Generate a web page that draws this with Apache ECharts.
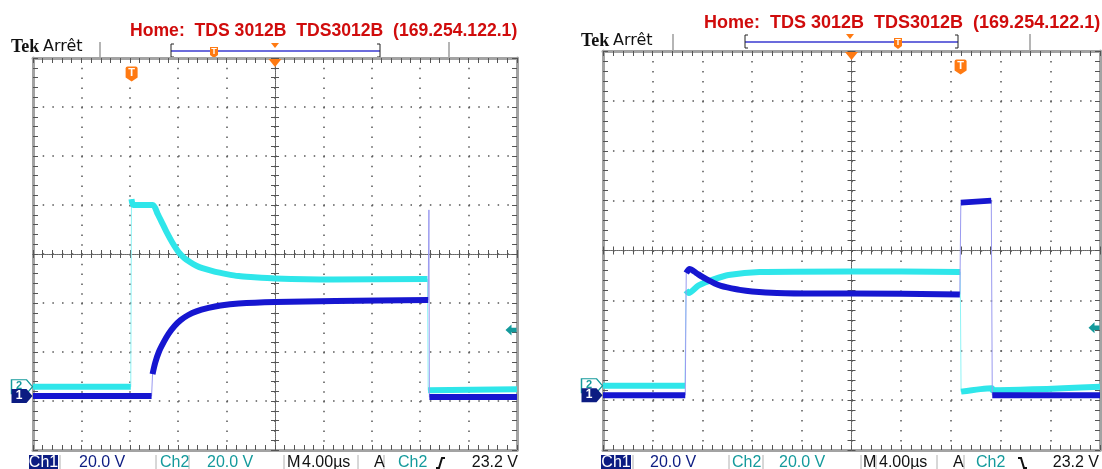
<!DOCTYPE html>
<html>
<head>
<meta charset="utf-8">
<title>TDS3012B</title>
<script src="https://cdn.jsdelivr.net/npm/echarts/dist/echarts.min.js"></script>
<style>
  html, body { margin: 0; padding: 0; background: #fff; }
  #main { width: 1102px; height: 469px; }
</style>
</head>
<body>
<div id="main"></div>
<script>
// temps en µs (4 µs/div), niveaux en divisions d'écran (20 V/div)
var leftCh2T  = [-20, -11.92, -11.86, -11.7, -10.1, -9.7, -9.3, -8.9, -8.5, -8.0, -7.5, -7.0, -6.5, -6.0, -5.0, -4.0, -3.0, -2.0, 0, 4.8, 12.6, 12.66, 20];
var leftCh2V  = [-2.71, -2.71, 1.12, 1.0, 1.0, 0.82, 0.62, 0.42, 0.24, 0.05, -0.08, -0.17, -0.24, -0.29, -0.36, -0.41, -0.45, -0.47, -0.5, -0.52, -0.51, -2.78, -2.76];
var leftCh1T  = [-20, -10.2, -10.12, -9.9, -9.6, -9.2, -8.8, -8.3, -7.8, -7.2, -6.5, -5.5, -4.5, -3.0, 0, 5.0, 12.66, 12.72, 12.76, 20];
var leftCh1V  = [-2.9, -2.9, -2.45, -2.22, -2.0, -1.8, -1.63, -1.47, -1.35, -1.25, -1.17, -1.1, -1.05, -1.01, -0.98, -0.96, -0.94, 0.9, -2.92, -2.92];

var rightCh2T = [-20, -13.4, -13.32, -13.1, -12.3, -11.1, -9.9, -7.4, 0, 8.75, 8.82, 11.3, 11.36, 20];
var rightCh2V = [-2.71, -2.71, -0.8, -0.85, -0.7, -0.58, -0.49, -0.43, -0.42, -0.43, -2.83, -2.76, -2.8, -2.73];
var rightCh1T = [-20, -13.38, -13.3, -13.03, -12.5, -12.0, -11.5, -11.0, -10.5, -10.0, -9.0, -8.0, -6.0, -3.0, 0, 8.72, 8.8, 11.25, 11.33, 20];
var rightCh1V = [-2.9, -2.9, -0.45, -0.37, -0.45, -0.53, -0.6, -0.66, -0.71, -0.74, -0.79, -0.82, -0.85, -0.86, -0.86, -0.88, 0.96, 1.0, -2.9, -2.9];

var voltsPerDiv = 20;
var trigLevel = 23.2;          // V, sur Ch2
var ch1Offset = -2.9;          // div
var ch2Offset = -2.71;         // div
var trigTimes = [-11.85, 8.78]; // µs

var scopes = [
  { left: 33,  top: 58, width: 484, height: 392 },
  { left: 603, top: 51, width: 497, height: 399 }
];

function pairs(t, v) {
  var d = [];
  for (var i = 0; i < t.length; i++) d.push([t[i], v[i]]);
  return d;
}
// trace épaisse : on coupe aux fronts raides (qui restent fins)
function thick(t, v) {
  var d = [];
  for (var i = 0; i < t.length; i++) {
    if (i > 0 && t[i] - t[i - 1] < 0.15 && Math.abs(v[i] - v[i - 1]) > 0.3) {
      d.push([(t[i] + t[i - 1]) / 2, '-']);
    }
    d.push([t[i], v[i]]);
  }
  return d;
}

var CYAN = '#2fe6ea', CYAN_THIN = '#8ff4f6';
var BLUE = '#1616d0', BLUE_THIN = '#9a9af0';
var ORANGE = '#ff7a12', NAVY = '#0c1c82', TEAL = '#149a9c', RED = '#d00c0c';

var grids = [], xAxes = [], yAxes = [], series = [];

scopes.forEach(function (sc, s) {
  var periodV = sc.height / 40, periodH = sc.width / 50;
  for (var k = 0; k < 4; k++) {
    var g = s * 4 + k;
    var border = k < 2;
    grids.push({ left: sc.left, top: sc.top, width: sc.width, height: sc.height });
    var lineStyle = border ? { color: '#a3a3a3', width: 3 } : { color: '#666', width: 1, type: [1, 1] };
    xAxes.push({
      gridIndex: g, type: 'value', min: -20, max: 20, interval: 4,
      position: (k === 0 || k === 2) ? 'bottom' : 'top',
      axisLine: { onZero: !border, lineStyle: lineStyle },
      axisTick: { inside: true, length: border ? 5 : 4, lineStyle: { color: '#555' } },
      minorTick: { show: true, splitNumber: 5, length: border ? 5 : 4, lineStyle: { color: '#555' } },
      axisLabel: { show: false },
      splitLine: { show: k === 0, lineStyle: { color: '#555', width: 1.5, type: [1.5, periodV - 1.5] } }
    });
    yAxes.push({
      gridIndex: g, type: 'value', min: -4, max: 4, interval: 1,
      position: (k === 0 || k === 2) ? 'left' : 'right',
      axisLine: { onZero: !border, lineStyle: lineStyle },
      axisTick: { inside: true, length: border ? 5 : 4, lineStyle: { color: '#555' } },
      minorTick: { show: true, splitNumber: 5, length: border ? 5 : 4, lineStyle: { color: '#555' } },
      axisLabel: { show: false },
      splitLine: { show: k === 0, lineStyle: { color: '#555', width: 1.5, type: [1.5, periodH - 1.5] } }
    });
  }
});

var traces = [
  [pairs(leftCh2T, leftCh2V), thick(leftCh2T, leftCh2V), pairs(leftCh1T, leftCh1V), thick(leftCh1T, leftCh1V)],
  [pairs(rightCh2T, rightCh2V), thick(rightCh2T, rightCh2V), pairs(rightCh1T, rightCh1V), thick(rightCh1T, rightCh1V)]
];

var trigDiv = ch2Offset + trigLevel / voltsPerDiv;

traces.forEach(function (tr, s) {
  var ax = s * 4;
  var base = { type: 'line', xAxisIndex: ax, yAxisIndex: ax, symbol: 'none', silent: true, animation: false, connectNulls: false };
  series.push(Object.assign({}, base, { data: tr[0], lineStyle: { color: CYAN_THIN, width: 1 } }));
  series.push(Object.assign({}, base, { data: tr[1], smooth: 0.25, lineStyle: { color: CYAN, width: 6 } }));
  series.push(Object.assign({}, base, { data: tr[2], lineStyle: { color: BLUE_THIN, width: 1 } }));
  series.push(Object.assign({}, base, {
    data: tr[3], smooth: 0.25, lineStyle: { color: BLUE, width: 6 },
    markPoint: {
      silent: true, animation: false,
      data: [
        { coord: [-20, ch2Offset], symbol: 'path://M0,0 L15,0 L21,7 L15,14 L0,14 Z', symbolSize: [21, 14], symbolOffset: [-11, 0],
          itemStyle: { color: '#fff', borderColor: TEAL, borderWidth: 1.2 },
          label: { show: true, formatter: '2', color: TEAL, fontSize: 11, fontWeight: 'bold', offset: [-3, -1] } },
        { coord: [-20, ch1Offset], symbol: 'path://M0,0 L15,0 L21,7 L15,14 L0,14 Z', symbolSize: [21, 14], symbolOffset: [-11, 0],
          itemStyle: { color: NAVY },
          label: { show: true, formatter: '1', color: '#fff', fontSize: 12, fontWeight: 'bold', offset: [-3, 0] } },
        { coord: [20, trigDiv], symbol: 'path://M0,5 L6,0 L6,3 L11,3 L11,7 L6,7 L6,10 Z', symbolSize: [11, 11], symbolOffset: [-6, 0],
          itemStyle: { color: TEAL }, label: { show: false } },
        { coord: [0, 4], symbol: 'triangle', symbolRotate: 180, symbolSize: [13, 8], symbolOffset: [0, 5],
          itemStyle: { color: ORANGE }, label: { show: false } },
        { coord: [trigTimes[s], 4], symbol: 'path://M0,2 Q0,0 2,0 L10,0 Q12,0 12,2 L12,11 L6,15 L0,11 Z', symbolSize: [12, 15], symbolOffset: [0, 16],
          itemStyle: { color: ORANGE },
          label: { show: true, formatter: 'T', color: '#fff', fontSize: 11, fontWeight: 'bold', offset: [0, -1] } }
      ]
    }
  }));
});

// --- en-têtes et barre d'état ---
var graphics = [];
function txt(x, y, s, font, color, align) {
  graphics.push({ type: 'text', x: x, y: y, silent: true,
    style: { text: s, font: font, fill: color, align: align || 'left', textAlign: align || 'left', verticalAlign: 'middle', textVerticalAlign: 'middle' } });
}
function line(x1, y1, x2, y2, color, w) {
  graphics.push({ type: 'line', silent: true, shape: { x1: x1, y1: y1, x2: x2, y2: y2 }, style: { stroke: color, lineWidth: w || 1 } });
}
function rect(x, y, w, h, color) {
  graphics.push({ type: 'rect', silent: true, shape: { x: x, y: y, width: w, height: h }, style: { fill: color } });
}
function tri(cx, top, w, h, color) {
  graphics.push({ type: 'polygon', silent: true, shape: { points: [[cx - w / 2, top], [cx + w / 2, top], [cx, top + h]] }, style: { fill: color } });
}
function smallT(cx, top) {
  graphics.push({ type: 'polygon', silent: true,
    shape: { points: [[cx - 4, top], [cx + 4, top], [cx + 4, top + 8], [cx, top + 11], [cx - 4, top + 8]] },
    style: { fill: ORANGE } });
  txt(cx, top + 5, 'T', 'bold 9px "Liberation Sans", Arial', '#fff', 'center');
}
function slope(cx, cy, rising) {
  var a = rising ? 5 : -5;
  graphics.push({ type: 'polyline', silent: true, shape: { points: [[cx - 5, cy + a], [cx - 2, cy + a], [cx + 1, cy - a], [cx + 4, cy - a]] }, style: { stroke: '#111', lineWidth: 2, fill: null } });
}

var titleText = 'Home:  TDS 3012B  TDS3012B  (169.254.122.1)';
var headers = [
  { titleX: 130, titleY: 31, titleSize: 17.6, tekX: 11, tekY: 47, tickX: [100, 449], tickTop: 42, tickBot: 58,
    brL: 171, brR: 380, brY: 51, triX: 275, triTop: 43, tX: 214, tTop: 47 },
  { titleX: 704, titleY: 23, titleSize: 18, tekX: 581, tekY: 41, tickX: [673, 1030], tickTop: 34, tickBot: 51,
    brL: 745, brR: 958, brY: 42, triX: 850, triTop: 34, tX: 898, tTop: 38 }
];
headers.forEach(function (h) {
  txt(h.titleX, h.titleY, titleText, 'bold ' + h.titleSize + 'px "Liberation Sans", Arial', RED);
  txt(h.tekX, h.tekY, 'Tek', 'bold 18px "Liberation Serif", "Times New Roman"', '#111');
  txt(h.tekX + 32, h.tekY, 'Arrêt', '16px "DejaVu Sans", "Liberation Sans"', '#111');
  h.tickX.forEach(function (x) { line(x, h.tickTop, x, h.tickBot, '#b5b5b5', 2); });
  line(h.brL, h.brY, h.brR, h.brY, '#3a3ad0', 1.5);
  line(h.brL, h.brY - 7, h.brL, h.brY + 6, '#222', 1);
  line(h.brL, h.brY - 7, h.brL + 3, h.brY - 7, '#222', 1);
  line(h.brL, h.brY + 6, h.brL + 3, h.brY + 6, '#222', 1);
  line(h.brR, h.brY - 7, h.brR, h.brY + 6, '#222', 1);
  line(h.brR, h.brY - 7, h.brR - 3, h.brY - 7, '#222', 1);
  line(h.brR, h.brY + 6, h.brR - 3, h.brY + 6, '#222', 1);
  tri(h.triX, h.triTop, 8, 5, ORANGE);
  smallT(h.tX, h.tTop);
});

var statusBars = [
  { box: 29, boxW: 29, seps: [60, 156, 189, 284, 299, 358, 384], v1: 79, c2: 160, v2: 207, m: 287, tb: 302, a: 374, c2b: 398, icon: 441, lvl: 518, rising: true },
  { box: 601, boxW: 30, seps: [633, 729, 763, 861, 876, 937, 964], v1: 650, c2: 732, v2: 779, m: 863, tb: 879, a: 953, c2b: 976, icon: 1023, lvl: 1099, rising: false }
];
var sf = '16px "Liberation Sans", Arial';
statusBars.forEach(function (b) {
  var y = 463;
  rect(b.box, 455, b.boxW, 14, NAVY);
  txt(b.box + b.boxW / 2, y, 'Ch1', sf, '#fff', 'center');
  b.seps.forEach(function (x) { line(x, 455, x, 469, '#b0b0b0', 1); });
  txt(b.v1, y, '20.0 V', sf, NAVY);
  txt(b.c2, y, 'Ch2', sf, TEAL);
  txt(b.v2, y, '20.0 V', sf, TEAL);
  txt(b.m, y, 'M', sf, '#111');
  txt(b.tb, y, '4.00µs', sf, '#111');
  txt(b.a, y, 'A', sf, '#111');
  txt(b.c2b, y, 'Ch2', sf, TEAL);
  slope(b.icon, y, b.rising);
  txt(b.lvl, y, '23.2 V', sf, '#111', 'right');
});

var chart = echarts.init(document.getElementById('main'), null, { renderer: 'canvas' });
chart.setOption({
  backgroundColor: '#fff',
  animation: false,
  grid: grids,
  xAxis: xAxes,
  yAxis: yAxes,
  series: series,
  graphic: graphics
});
</script>
</body>
</html>
